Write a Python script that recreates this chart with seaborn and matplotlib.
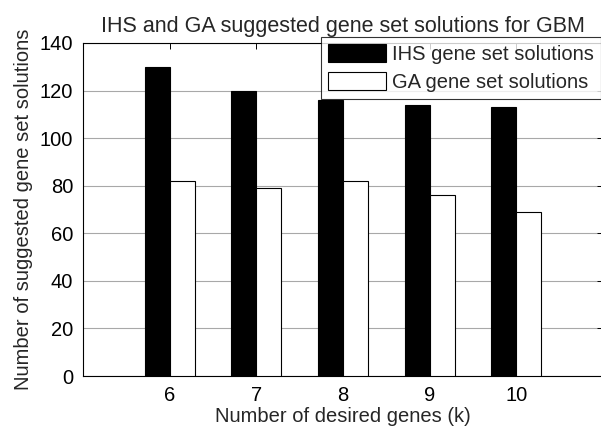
# IHS vs GA suggested gene set solutions (GBM)

import pandas as pd
import seaborn as sns
import matplotlib.pyplot as plt

genes_k = [6, 7, 8, 9, 10]
ihs_solutions = [130, 120, 116, 114, 113]
ga_solutions = [82, 79, 82, 76, 69]
series_names = ["IHS gene set solutions", "GA gene set solutions"]

df = pd.DataFrame({
    "k": genes_k * 2,
    "count": ihs_solutions + ga_solutions,
    "method": [series_names[0]] * 5 + [series_names[1]] * 5,
})

sns.set_style("white")
plt.rcParams['font.family'] = ['Liberation Sans', 'DejaVu Sans']

fig = plt.figure(figsize=(6.01, 4.29), dpi=100)
W, H = 601, 429
ax = fig.add_axes([83 / W, 1 - 376 / H, (603 - 83) / W, (376 - 43) / H])

sns.barplot(data=df, x="k", y="count", hue="method", palette=["black", "white"],
            width=0.58, edgecolor="black", linewidth=0.8, ax=ax, zorder=3)

ax.set_xlim(-1, 5)
ax.set_ylim(0, 140)
ax.set_yticks(range(0, 141, 20))
ax.yaxis.grid(True, color="#a8a8a8", linewidth=0.8, zorder=0)
ax.set_axisbelow(True)
for s in ax.spines.values():
    s.set_color("black")
    s.set_linewidth(0.8)
ax.tick_params(direction="in", top=True, right=True, length=4, width=0.7,
               labelsize=14.5, colors="black", pad=7)

ax.set_title("IHS and GA suggested gene set solutions for GBM", fontsize=15.5, pad=8)
ax.set_xlabel("Number of desired genes (k)", fontsize=14.5, labelpad=2)
ax.set_ylabel("Number of suggested gene set solutions", fontsize=14.5, labelpad=5)

leg = ax.legend(loc="upper right", bbox_to_anchor=(1.0, 1 - 37 / H), bbox_transform=fig.transFigure,
                borderaxespad=0, fontsize=14.5, frameon=True, fancybox=False,
                handlelength=2.9, handleheight=1.0, handletextpad=0.3, borderpad=0.35,
                labelspacing=0.4)
leg.get_frame().set_edgecolor("black")
leg.get_frame().set_linewidth(0.8)
leg.set_zorder(5)

fig.savefig("out.png", dpi=100)
